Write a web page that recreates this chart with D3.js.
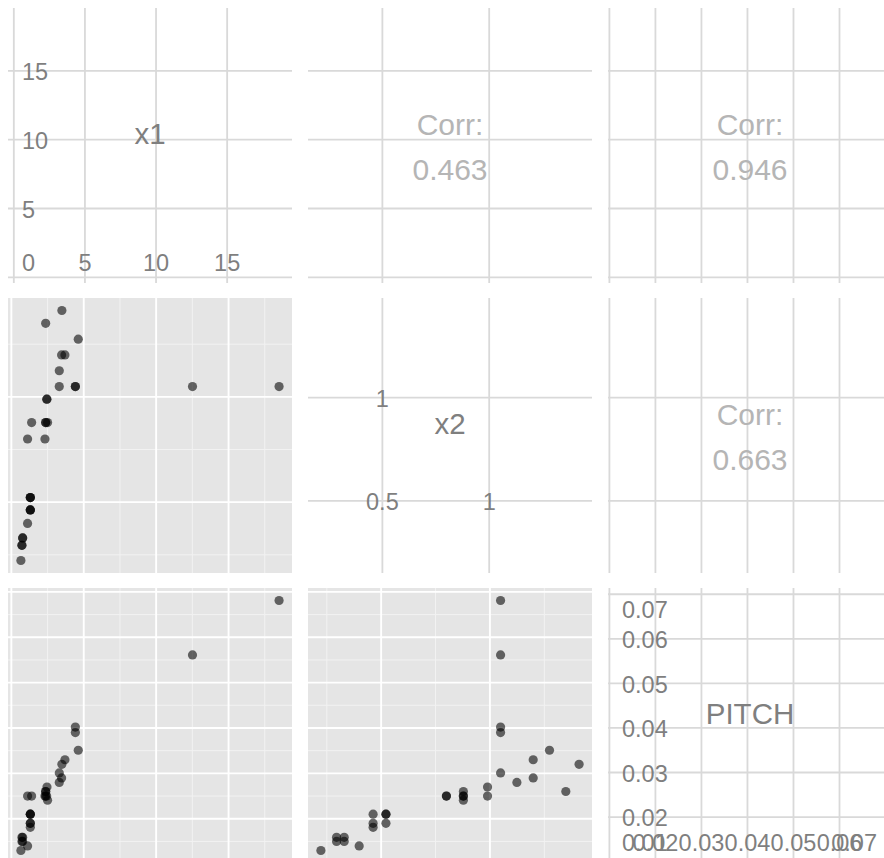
<!DOCTYPE html>
<html>
<head>
<meta charset="utf-8">
<script src="https://cdn.jsdelivr.net/npm/d3@7"></script>
<style>
  html, body { margin: 0; padding: 0; background: #fff; }
  svg { display: block; font-family: "Liberation Sans", Arial, Helvetica, sans-serif; }
</style>
</head>
<body>
<svg id="chart" width="884" height="858"></svg>
<script>
// ---- data -------------------------------------------------------------
const varNames = ["x1", "x2", "PITCH"];

const x1 = [18.49, 12.51, 4.42, 4.42, 4.62, 3.70, 3.49, 3.31, 3.47, 3.31,
            2.46, 2.37, 2.37, 2.44, 2.37, 1.40, 2.32, 2.50, 1.31, 1.31,
            1.31, 1.31, 1.31, 1.31, 0.78, 0.78, 0.73, 0.73, 1.12, 0.66, 1.12];
const x2 = [1.049, 1.049, 1.049, 1.049, 1.274, 1.199, 1.410, 1.049, 1.199, 1.124,
            0.989, 1.349, 0.878, 0.989, 0.878, 0.878, 0.800, 0.878, 0.463, 0.522,
            0.522, 0.463, 0.522, 0.463, 0.330, 0.330, 0.295, 0.295, 0.399, 0.223, 0.800];
const pitch = [0.0681, 0.0561, 0.0402, 0.0390, 0.0351, 0.0330, 0.0320, 0.0301, 0.0290, 0.0280,
               0.0270, 0.0260, 0.0260, 0.0250, 0.0250, 0.0250, 0.0250, 0.0241, 0.0210, 0.0210,
               0.0210, 0.0190, 0.0190, 0.0181, 0.0159, 0.0150, 0.0159, 0.0150, 0.0140, 0.0130, 0.0250];

const x1Ticks = [0, 5, 10, 15];
const x2Ticks = [0.5, 1];
const pitchTicks = [0.01, 0.02, 0.03, 0.04, 0.05, 0.06, 0.07];
const x1TickLabels = ["0", "5", "10", "15"];
const x2TickLabels = ["0.5", "1"];
const pitchTickLabels = ["0.01", "0.02", "0.03", "0.04", "0.05", "0.06", "0.07"];

// upper-triangle correlation cells: [row var, col var]
const corrPairs = [[0, 1], [0, 2], [1, 2]];
const corrValues = ["0.463", "0.946", "0.663"];

// ---- layout -----------------------------------------------------------
const series = [x1, x2, pitch];
const ticks = [x1Ticks, x2Ticks, pitchTicks];
const tickLabels = [x1TickLabels, x2TickLabels, pitchTickLabels];

const colLeft = [8, 308, 608];
const rowTop = [8, 298, 588];
const PW = 284, PH = 275;

const gridGrey = "#d9d9d9";
const textGrey = "#7f7f7f";
const corrGrey = "#b5b5b5";
const tickFont = 23.5, labelFont = 29.5, corrFont = 30;

const svg = d3.select("#chart");

function padded(vals, f) {
  const [a, b] = d3.extent(vals);
  const p = (b - a) * f;
  return [a - p, b + p];
}
function xScale(v, j, f) {
  return d3.scaleLinear().domain(padded(series[v], f)).range([colLeft[j], colLeft[j] + PW]);
}
function yScale(v, i, f) {
  return d3.scaleLinear().domain(padded(series[v], f)).range([rowTop[i] + PH, rowTop[i]]);
}
function minorTicks(t, dom) {
  const step = t.length > 1 ? t[1] - t[0] : 0.5;
  const m = t.map(d => d - step / 2).concat([t[t.length - 1] + step / 2]);
  return m.filter(d => d >= Math.min(...dom) && d <= Math.max(...dom));
}

const defs = svg.append("defs");

for (let i = 0; i < 3; i++) {
  for (let j = 0; j < 3; j++) {
    const left = colLeft[j], top = rowTop[i];
    const clipId = `clip-${i}-${j}`;
    defs.append("clipPath").attr("id", clipId)
      .append("rect").attr("x", left).attr("y", top).attr("width", PW).attr("height", PH);
    const g = svg.append("g").attr("clip-path", `url(#${clipId})`);

    if (i > j) {
      // scatter cell: x = column variable, y = row variable
      const xs = xScale(j, j, 0.05), ys = yScale(i, i, 0.05);
      g.append("rect").attr("x", left).attr("y", top).attr("width", PW).attr("height", PH)
        .attr("fill", "#e5e5e5");
      g.selectAll(".vminor").data(minorTicks(ticks[j], xs.domain())).join("line")
        .attr("x1", d => xs(d)).attr("x2", d => xs(d)).attr("y1", top).attr("y2", top + PH)
        .attr("stroke", "#f2f2f2").attr("stroke-width", 1);
      g.selectAll(".hminor").data(minorTicks(ticks[i], ys.domain())).join("line")
        .attr("y1", d => ys(d)).attr("y2", d => ys(d)).attr("x1", left).attr("x2", left + PW)
        .attr("stroke", "#f2f2f2").attr("stroke-width", 1);
      g.selectAll(".vmajor").data(ticks[j]).join("line")
        .attr("x1", d => xs(d)).attr("x2", d => xs(d)).attr("y1", top).attr("y2", top + PH)
        .attr("stroke", "#ffffff").attr("stroke-width", 1.9);
      g.selectAll(".hmajor").data(ticks[i]).join("line")
        .attr("y1", d => ys(d)).attr("y2", d => ys(d)).attr("x1", left).attr("x2", left + PW)
        .attr("stroke", "#ffffff").attr("stroke-width", 1.9);
      g.selectAll("circle").data(d3.range(series[0].length)).join("circle")
        .attr("cx", k => xs(series[j][k]))
        .attr("cy", k => ys(series[i][k]))
        .attr("r", 4.6)
        .attr("fill", "#000").attr("fill-opacity", 0.58);
    } else {
      // blank cell with light grid (diagonal labels / correlations)
      const xs = xScale(j, j, 0.06), ys = yScale(i, i, 0.06);
      g.selectAll(".vmajor").data(ticks[j]).join("line")
        .attr("x1", d => xs(d)).attr("x2", d => xs(d)).attr("y1", top).attr("y2", top + PH)
        .attr("stroke", gridGrey).attr("stroke-width", 1.8);
      g.selectAll(".hmajor").data(ticks[i]).join("line")
        .attr("y1", d => ys(d)).attr("y2", d => ys(d)).attr("x1", left).attr("x2", left + PW)
        .attr("stroke", gridGrey).attr("stroke-width", 1.8);

      if (i === j) {
        // axis value labels placed inside the cell, kept clear of its edges
        const placeLabel = (txt, cx, cy) => {
          const t = g.append("text").text(txt)
            .attr("font-size", tickFont).attr("fill", textGrey);
          const w = t.node().getComputedTextLength();
          let x0 = cx - w / 2;
          x0 = Math.max(x0, left + 14);
          x0 = Math.min(x0, left + PW - 15 - w);
          let yc = Math.max(cy, top + 21);
          yc = Math.min(yc, top + PH - 21);
          t.attr("x", x0).attr("y", yc + 0.358 * tickFont + 1);
        };
        const t = ticks[i];
        const labs = tickLabels[i];
        // y-direction labels along the first x break
        t.forEach((d, k) => { if (k > 0) placeLabel(labs[k], xs(t[0]), ys(d)); });
        // x-direction labels along the first y break
        t.forEach((d, k) => placeLabel(labs[k], xs(d), ys(t[0])));

        g.append("text").text(varNames[i])
          .attr("x", left + PW / 2).attr("y", top + PH / 2 - 1.5)
          .attr("text-anchor", "middle")
          .attr("font-size", labelFont).attr("fill", textGrey);
      }
    }
  }
}

// correlation text in the upper cells
corrPairs.forEach(([r, c], k) => {
  const cx = colLeft[c] + PW / 2, cy = rowTop[r] + PH / 2;
  const t = svg.append("text").attr("text-anchor", "middle")
    .attr("font-size", corrFont).attr("fill", corrGrey);
  t.append("tspan").attr("x", cx).attr("y", cy - 11).text("Corr:");
  t.append("tspan").attr("x", cx).attr("y", cy + 34).text(corrValues[k]);
});
</script>
</body>
</html>
